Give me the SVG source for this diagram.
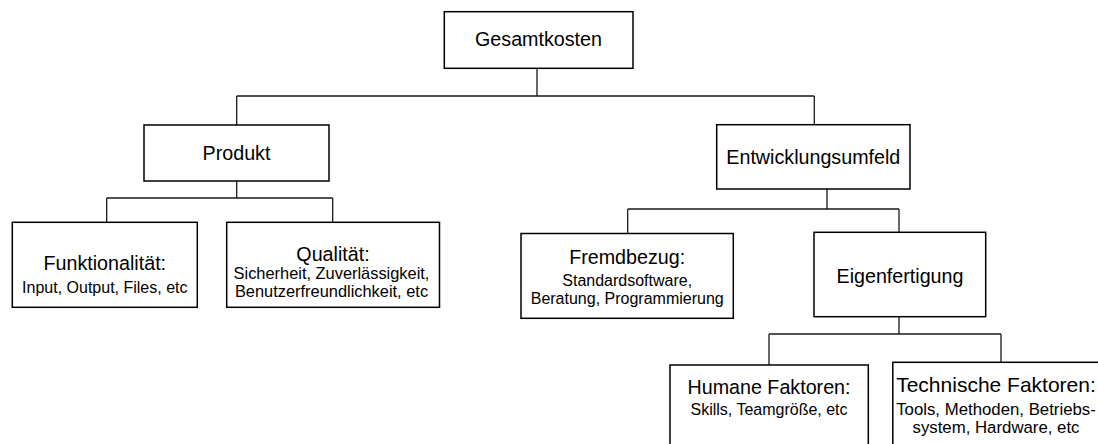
<svg xmlns="http://www.w3.org/2000/svg" width="1098" height="444" viewBox="0 0 1098 444">
  <style>
    .box { fill: #fff; stroke: #000; stroke-width: 1.5; }
    .conn { fill: none; stroke: #1a1a1a; stroke-width: 1.3; }
    text { font-family: "Liberation Sans", Arial, sans-serif; fill: #000; text-anchor: middle; }
    .t { font-size: 19.7px; }
    .s { font-size: 16px; }
  </style>
  <rect width="1098" height="444" fill="#fff"/>

  <!-- tree connectors -->
  <g id="connectors">
    <path class="conn" d="M537,68 V96 M236.7,96 H814.3 M236.7,96 V125 M814.3,96 V125"/>
    <path class="conn" d="M236.7,181 V198 M106.7,198 H332.7 M106.7,198 V222.3 M332.7,198 V222.3"/>
    <path class="conn" d="M827,189 V209 M627.7,209 H899 M627.7,209 V233.5 M899,209 V232.3"/>
    <path class="conn" d="M899,317 V334 M769,334 H1001 M769,334 V365 M1001,334 V362.3"/>
  </g>

  <g id="gesamtkosten">
    <rect class="box" x="444.3" y="11.7" width="188.7" height="56.6"/>
    <text class="t" x="538.5" y="46">Gesamtkosten</text>
  </g>

  <g id="produkt">
    <rect class="box" x="144" y="125" width="185" height="56"/>
    <text class="t" x="236.5" y="159.5">Produkt</text>
  </g>

  <g id="entwicklungsumfeld">
    <rect class="box" x="716.7" y="124.7" width="193.3" height="64.3"/>
    <text class="t" x="813.3" y="163.5">Entwicklungsumfeld</text>
  </g>

  <g id="funktionalitaet">
    <rect class="box" x="12.3" y="222.3" width="185" height="85"/>
    <text class="t" x="104.8" y="270">Funktionalität:</text>
    <text class="s" x="104.8" y="292.5">Input, Output, Files, etc</text>
  </g>

  <g id="qualitaet">
    <rect class="box" x="226.7" y="222.3" width="212.8" height="85"/>
    <text class="t" x="333" y="261">Qualität:</text>
    <text class="s" x="331.5" y="279" style="font-size:16.4px">Sicherheit, Zuverlässigkeit,</text>
    <text class="s" x="331.5" y="297" style="font-size:16.4px">Benutzerfreundlichkeit, etc</text>
  </g>

  <g id="fremdbezug">
    <rect class="box" x="521" y="233.5" width="212.3" height="84.8"/>
    <text class="t" x="627.2" y="264">Fremdbezug:</text>
    <text class="s" x="627.2" y="285.5">Standardsoftware,</text>
    <text class="s" x="627.2" y="303.5">Beratung, Programmierung</text>
  </g>

  <g id="eigenfertigung">
    <rect class="box" x="814" y="232.3" width="171.7" height="84.4"/>
    <text class="t" x="900" y="282.7">Eigenfertigung</text>
  </g>

  <g id="humane-faktoren">
    <rect class="box" x="670" y="365" width="198.3" height="90"/>
    <text class="t" x="769" y="394">Humane Faktoren:</text>
    <text class="s" x="769" y="415">Skills, Teamgröße, etc</text>
  </g>

  <g id="technische-faktoren">
    <rect class="box" x="892.8" y="362.3" width="206.5" height="92"/>
    <text x="996" y="391.7" style="font-size:21px">Technische Faktoren:</text>
    <text x="996" y="415" style="font-size:16.8px">Tools, Methoden, Betriebs-</text>
    <text x="996" y="433.3" style="font-size:16.8px">system, Hardware, etc</text>
  </g>
</svg>
